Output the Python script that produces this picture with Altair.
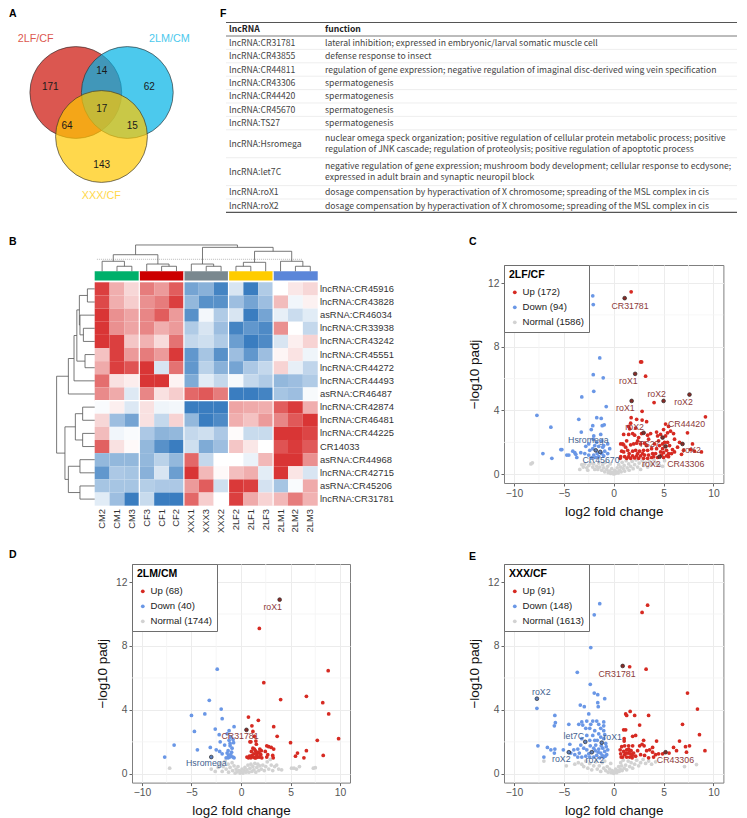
import altair as alt
import pandas as pd

FONT = "Liberation Sans"

# ---------- Venn ----------
VENN_NAMES = ["2LF/CF", "2LM/CM", "XXX/CF"]
VENN_CX = [75.8, 127.3, 101.5]
VENN_CY = [92.5, 92.5, 136.5]
VENN_FILL = ["#cc1005", "#00b2e5", "#ffc700"]
VENN_TITLE_COLOR = ["#dc5850", "#4bc9ed", "#ffd84a"]
VENN_TITLE_X = [35.7, 169.3, 101.3]
VENN_TITLE_Y = [39.3, 39.3, 196.3]
VENN_COUNTS = ["171", "14", "62", "17", "64", "15", "143"]
VENN_COUNT_X = [50.3, 101.7, 149.3, 101.7, 67, 132.3, 101.7]
VENN_COUNT_Y = [86.7, 71.3, 86.7, 108.7, 126.3, 126.3, 164.7]

# ---------- Table ----------
TABLE_HEAD = ["lncRNA", "function"]
TABLE_NAMES = ["lncRNA:CR31781", "lncRNA:CR43855", "lncRNA:CR44811", "lncRNA:CR43306", "lncRNA:CR44420",
               "lncRNA:CR45670", "lncRNA:TS27", "lncRNA:Hsromega", "lncRNA:let7C", "lncRNA:roX1", "lncRNA:roX2"]
TABLE_FUNCS = [
    ["lateral inhibition; expressed in embryonic/larval somatic muscle cell"],
    ["defense response to insect"],
    ["regulation of gene expression; negative regulation of imaginal disc-derived wing vein specification"],
    ["spermatogenesis"], ["spermatogenesis"], ["spermatogenesis"], ["spermatogenesis"],
    ["nuclear omega speck organization; positive regulation of cellular protein metabolic process; positive",
     "regulation of JNK cascade; regulation of proteolysis; positive regulation of apoptotic process"],
    ["negative regulation of gene expression; mushroom body development; cellular response to ecdysone;",
     "expressed in adult brain and synaptic neuropil block"],
    ["dosage compensation by hyperactivation of X chromosome; spreading of the MSL complex in cis"],
    ["dosage compensation by hyperactivation of X chromosome; spreading of the MSL complex in cis"],
]

# ---------- Heatmap ----------
HEAT_COLS = ["CM2", "CM1", "CM3", "CF3", "CF1", "CF2", "XXX1", "XXX3", "XXX2", "2LF2", "2LF1", "2LF3", "2LM1", "2LM2", "2LM3"]
HEAT_ROWS = ["lncRNA:CR45916", "lncRNA:CR43828", "asRNA:CR46034", "lncRNA:CR33938", "lncRNA:CR43242", "lncRNA:CR45551",
             "lncRNA:CR44272", "lncRNA:CR44493", "asRNA:CR46487", "lncRNA:CR42874", "lncRNA:CR46481", "lncRNA:CR44225",
             "CR14033", "asRNA:CR44968", "lncRNA:CR42715", "asRNA:CR45206", "lncRNA:CR31781"]
HEAT = [
    [.95, .4, .2, .65, .5, .8, -.7, -.6, -.95, -.2, -1, -.4, 0, .12, .2],
    [.9, .4, .25, .55, .65, .95, -.55, -.85, -.85, -.5, -.7, -.5, .33, -.07, .07],
    [1, .55, .45, .6, .8, .5, -.85, -.06, -.4, -.2, -1, -.7, -.12, -.27, -.15],
    [1, .55, .45, .6, .4, .5, -.4, -.2, -.5, -.95, -.8, -.9, .55, 0, -.3],
    [1, .95, .28, .38, .18, .7, -.3, -.25, -.4, -.75, -1, -.9, -.2, .08, .22],
    [.3, .95, .5, .65, .5, .98, -.8, -.45, -.85, -.5, -.8, -.5, .05, .14, -.08],
    [.42, .95, .85, 1, -.2, .7, -.8, -.35, -.6, -.7, -.42, -.3, .22, -.12, -.32],
    [.72, .15, .09, 1, 1, .06, -.65, -.15, -.3, -.05, -.3, -.4, -.55, -.5, -.4],
    [.58, .42, -.17, .6, .15, .25, .75, .82, .65, -1, -1, -.95, -.45, -.5, -.04],
    [-.03, .08, -.18, .15, -.08, -.06, -1, -1, -1, .45, .42, .4, .8, .97, .4],
    [.2, -.5, -.7, .15, -.3, .22, -.55, -1, -.9, .4, .3, .5, .6, .82, 1],
    [.33, -.07, -.03, -.42, -.58, -.55, -.3, -.25, -.42, .02, -.28, -.28, 1, 1, .92],
    [.78, .15, .03, -.55, -.85, -1, -.25, -.65, -.5, .28, .12, 0, .85, .97, .82],
    [-.55, -.55, -.55, -.55, -.35, -.55, .75, -.3, 0, 0, -.1, .35, 1, 1, .55],
    [-.8, -.42, -.45, -.6, -.2, -.75, 1, .35, .03, .32, .4, -.14, 1, .13, -.2],
    [-.45, -.45, -.45, -.38, -.42, -.42, .5, .8, -.25, .98, .95, -.22, -.45, -.03, .42],
    [-.15, -.5, -1, -.28, -1, -1, .75, .25, 0, .95, .42, .22, .35, .65, .38],
]
ANNOT_COLORS = ["#00b06b", "#cc0000", "#7a888f", "#ffcc00", "#5b86d9"]
# top dendrogram merges: left pos, right pos, height, left child height, right child height
TOP_DENDRO = [
    (1.5, 2.5, 1.22, .84, .84), (.5, 2.0, 1.60, .84, 1.22),
    (4.5, 5.5, 1.22, .84, .84), (3.5, 5.0, 1.39, .84, 1.22),
    (1.25, 4.25, 2.10, 1.60, 1.39),
    (7.5, 8.5, 1.22, .84, .84), (6.5, 8.0, 1.39, .84, 1.22),
    (9.5, 10.5, 1.22, .84, .84), (10.0, 11.5, 1.52, 1.22, .84),
    (13.5, 14.5, 1.22, .84, .84), (12.5, 14.0, 1.60, .84, 1.22),
    (10.75, 13.25, 2.36, 1.52, 1.60), (7.25, 12.0, 2.66, 1.39, 2.36),
    (2.75, 9.6, 2.84, 2.10, 2.66),
]
# left dendrogram merges: upper row pos, lower row pos, depth, upper child depth, lower child depth
LEFT_DENDRO = [
    (.5, 1.5, .49, 0, 0), (3.5, 4.5, .76, 0, 0), (2.5, 4.0, .99, 0, .76), (1.0, 3.25, 1.03, .49, .99),
    (5.5, 6.5, .65, 0, 0), (2.1, 6.0, 1.20, 1.03, .65), (4.05, 7.5, 1.39, 1.20, 0), (5.8, 8.5, 1.77, 1.39, 0),
    (9.5, 10.5, .81, 0, 0), (11.5, 12.5, .81, 0, 0), (10.0, 12.0, 1.30, .81, .81),
    (13.5, 14.5, .99, 0, 0), (15.5, 16.5, .99, 0, 0), (14.0, 16.0, 1.77, .99, .99),
    (11.0, 15.0, 2.0, 1.30, 1.77), (7.15, 13.0, 2.56, 1.77, 2.0),
]

# ---------- Volcano C ----------
C_UP = [(1.75,11.45),(2.7,7.05),(2.8,7.05),(3.2,6.15),(4.05,4.5),(2.85,3.95),(9.2,3.6),(1.75,3.55),(2.3,3.45),(2.85,3.4),(1.7,3.2),(3.3,3.3),(1.5,3.0),(5.2,3.15),(5.5,3.0),
(.7,1.9),(.9,1.9),(1.0,1.85),(1.3,2.1),(1.0,2.5),(1.5,2.5),(1.9,2.55),(2.1,2.45),(2.5,2.3),(2.8,2.55),(3.4,2.45),(3.7,2.55),(3.5,2.2),(2.2,2.9),(1.6,2.85),(2.4,2.1),(1.2,1.7),(1.7,1.85),(2.0,1.9),(2.3,1.95),(2.7,1.9),(3.1,1.95),(1.4,1.5),(.8,1.45),(1.0,1.4),(1.9,1.45),(2.2,1.5),(2.6,1.45),(3.0,1.5),(3.4,1.5),(3.8,1.6),(4.1,1.9),(4.3,1.6),(4.6,1.8),(4.5,2.1),(4.4,2.4),(4.3,2.65),(4.7,2.5),(5.2,2.4),(5.0,2.8),(5.4,2.6),(5.7,2.7),(6.0,2.55),(7.4,2.6),(5.1,2.0),(5.4,2.0),(5.6,1.8),(4.9,1.6),(5.3,1.5),(5.0,1.35),(4.8,1.2),(4.2,1.3),(3.9,1.3),(3.5,1.2),(3.1,1.2),(2.7,1.15),(2.3,1.15),(1.9,1.15),(1.5,1.1),(1.1,1.1),(.7,1.1),(.65,1.0),(1.3,1.0),(1.7,1.0),(2.1,1.02),(2.5,1.0),(3.0,1.0),(3.4,1.0),(3.8,1.05),(4.4,1.05),(5.0,1.05),(5.5,1.1),(5.8,1.3),(6.1,1.4),(6.4,1.7),(6.1,2.2),(6.6,2.0),(7.0,1.5),(6.8,1.25),(7.9,1.9),(7.7,1.55),(8.8,1.4),(8.1,1.45),(5.9,1.55),(4.0,1.1),(4.7,1.4),(5.5,1.3),(5.3,1.15),(4.9,1.9),(3.3,1.8),(1.55,1.3),(2.4,1.3),(2.9,1.3)]
C_DOWN = [(-2.1,11.2),(-2.05,10.65),(-1.4,7.3),(-2.05,6.25),(-1.05,6.05),(-2.0,5.2),(-3.2,4.85),(-.75,4.25),(-7.7,3.7),(-1.7,3.55),(-1.25,3.5),(-3.5,3.45),(-6.3,2.95),(-2.1,3.05),(-1.15,3.05),(-.95,3.1),(-2.25,2.8),(-3.25,2.65),(-1.3,2.5),(-2.0,2.4),(-2.05,2.2),(-2.5,1.9),(-1.7,2.0),(-1.2,2.1),(-1.9,1.8),(-1.5,1.75),(-1.0,1.8),(-.6,1.9),(-2.8,1.75),(-2.4,1.5),(-2.1,1.6),(-.9,1.45),(-.4,1.6),(-.6,1.3),(-1.0,1.15),(-1.5,1.1),(-2.0,1.2),(-2.5,1.2),(-2.9,1.3),(-3.3,1.35),(-5.3,1.55),(-5.2,1.55),(-4.1,1.45),(-3.9,1.35),(-3.8,1.25),(-4.7,1.2),(-4.5,1.2),(-3.7,1.05),(-7.1,1.3),(-6.2,1.0),(-1.2,1.3),(-1.65,1.3),(-1.8,1.05),(-2.2,1.05),(-1.1,1.7)]
C_NORMAL = [(-8.3,.65),(-8.15,.72),(-3.2,.6),(-3.05,.45),(-3.4,.3),(-2.9,.65),(-2.7,.4),(-2.5,.55),(-2.3,.7),(-2.6,.25),(-2.1,.45),(-1.9,.3),(-2.0,.65),(-1.7,.5),(-1.5,.7),(-1.6,.3),(-1.4,.45),(-1.2,.25),(-1.1,.6),(-1.0,.4),(-.9,.15),(-.85,.75),(-.7,.3),(-.6,.5),(-.55,.1),(-.4,.2),(-.35,.65),(-.3,.05),(-.2,.35),(-.15,.1),(0,.02),(.05,.1),(.15,.05),(.1,.25),(.3,.15),(.35,.4),(.45,.08),(.5,.6),(.6,.25),(.7,.45),(.75,.15),(.85,.75),(.95,.35),(1.05,.55),(1.1,.2),(1.25,.85),(1.35,.4),(1.5,.65),(1.55,.25),(1.7,.5),(1.85,.8),(1.95,.35),(2.1,.6),(2.25,.9),(2.4,.45),(2.55,.7),(2.7,.3),(2.85,.85),(3.0,.55),(3.2,.75),(3.4,.45),(3.6,.8),(3.8,.6),(4.05,.9),(4.3,.7),(4.6,.55),(4.9,.5),(5.1,.85)]
C_HL_UP = [(1.1,11.05),(2.15,6.3),(7.6,5.0),(1.8,4.6),(5.0,4.6),(3.0,2.6),(4.9,2.3),(5.2,1.75),(4.6,1.1),(6.9,1.9)]
C_HL_DOWN = [(-1.8,1.5),(-1.35,1.4)]
C_LAB_UP = [("CR31781",1.64,10.58),("roX1",1.47,5.85),("roX2",4.31,5.02),("roX2",7.0,4.54),("roX1",1.17,4.18),("CR44420",7.3,3.14),("roX2",2.1,2.97),("TS27",3.55,1.92),("roX2",7.8,1.53),("roX2",3.78,.67),("CR43306",7.22,.67)]
C_LAB_DOWN = [("Hsromega",-2.54,2.13),("CR45670",-1.27,.88)]

# ---------- Volcano D ----------
D_UP = [(1.85,9.1),(8.8,6.45),(2.3,5.7),(4.0,4.65),(6.6,4.85),(8.25,4.45),(8.85,3.75),(.75,3.55),(1.75,3.35),(3.3,2.95),(1.1,3.0),(1.2,2.65),(3.65,2.35),(1.35,2.35),(1.5,2.05),(.9,2.0),(1.0,2.0),(1.55,1.85),(5.0,1.95),(7.7,2.1),(9.85,2.2),(5.7,1.3),(5.5,1.1),(6.6,1.45),(6.35,1.0),(8.3,1.15),(2.6,1.75),(2.8,1.7),(3.05,1.65),(3.3,1.55),(2.7,1.2),(3.2,1.15),(3.25,1.0),(2.6,1.05),(.6,1.05),(.85,1.1),(1.05,1.4),(1.2,1.6),(1.3,1.25),(1.4,1.0),(1.45,1.45),(1.6,1.15),(1.75,1.35),(1.85,1.05),(1.9,1.55),(2.0,1.2),(2.1,1.0),(1.1,1.15),(1.25,1.05),(1.55,1.3),(1.65,1.05),(1.0,1.0),(1.35,1.55),(1.5,1.0),(1.9,1.25),(.75,1.0),(2.05,1.45),(2.45,1.4)]
D_DOWN = [(-2.4,6.55),(-3.2,4.6),(-2.0,4.05),(-5.0,3.65),(-3.65,3.75),(-1.9,3.45),(-2.6,2.8),(-.7,2.95),(-4.7,2.65),(-1.2,2.7),(-2.2,2.45),(-1.4,2.5),(-1.05,2.3),(-.8,2.15),(-2.1,2.0),(-1.65,1.8),(-1.2,2.1),(-.75,1.95),(-1.1,1.75),(-.9,1.6),(-6.75,1.8),(-3.1,1.65),(-4.4,1.5),(-2.5,1.5),(-2.15,1.4),(-1.9,1.25),(-1.4,1.3),(-7.7,1.05),(-1.5,1.0),(-1.3,1.0),(-1.15,1.05),(-1.0,1.1),(-.8,1.05),(-.7,1.0),(-1.05,1.2),(-1.3,1.45),(-1.1,1.9),(-.95,1.35),(-1.25,1.15)]
D_NORMAL = [(-7.2,.35),(-3.0,.3),(-2.6,.15),(-2.3,.4),(-2.1,.65),(-1.9,.15),(-1.6,.8),(-1.8,.45),(-1.5,.3),(-1.3,.6),(-1.25,.1),(-1.1,.4),(-.9,.7),(-.85,.2),(-.7,.5),(-.6,.05),(-.5,.3),(-.4,.12),(-.3,.45),(-.2,.2),(-.1,.05),(0,.15),(.1,.3),(.2,.05),(.3,.2),(.4,.4),(.5,.1),(.6,.25),(.7,.55),(.8,.1),(.9,.35),(1.0,.6),(1.1,.15),(1.2,.45),(1.3,.25),(1.4,.65),(1.5,.1),(1.6,.4),(1.7,.6),(1.8,.2),(1.9,.5),(2.05,.3),(2.2,.55),(2.35,.2),(2.5,.45),(2.65,.75),(2.8,.3),(2.95,.9),(3.05,.55),(3.2,.2),(3.4,.45),(3.6,.55),(3.8,.3),(4.1,.25),(5.1,.35),(5.35,.35),(5.6,.3),(5.9,.45),(7.3,.35),(7.5,.38)]
D_HL_UP = [(3.9,10.9),(.55,2.75)]
D_HL_DOWN = [(-3.0,1.05)]
D_LAB_UP = [("roX1",3.2,10.42),("CR31781",-.1,2.34)]
D_LAB_DOWN = [("Hsromega",-3.5,.65)]

# ---------- Volcano E ----------
E_UP = [(3.4,10.55),(2.85,10.1),(1.6,6.7),(3.25,6.55),(7.4,5.05),(8.4,4.05),(1.65,3.9),(1.2,3.75),(1.3,3.65),(2.1,3.65),(3.5,3.65),(2.6,3.05),(6.9,3.1),(1.0,2.75),(1.2,2.75),(8.6,2.45),(1.9,2.35),(2.2,2.4),(4.3,2.05),(6.6,2.05),(3.0,2.1),(1.05,2.2),(1.05,2.05),(9.15,1.45),(7.6,1.75),(7.2,1.7),(7.3,1.35),(6.0,1.65),(6.3,1.45),(5.55,1.3),(4.9,1.25),(4.5,1.25),(4.2,1.2),(3.9,1.35),(3.6,1.5),(3.3,1.45),(3.05,1.75),(2.85,1.85),(2.6,1.75),(2.4,1.45),(2.7,1.2),(3.1,1.15),(3.5,1.0),(2.2,1.1),(1.9,1.75),(1.75,1.45),(1.5,1.75),(1.3,1.5),(1.1,1.75),(.8,1.7),(.65,1.5),(.7,1.25),(.9,1.05),(1.1,1.2),(1.3,1.05),(1.45,1.3),(1.6,1.05),(1.7,1.25),(1.85,1.15),(2.0,1.3),(1.5,1.55),(1.25,1.3),(1.6,1.45),(1.0,1.4),(.75,1.05),(1.85,1.0),(4.0,1.05),(3.9,1.65)]
E_DOWN = [(-1.4,10.65),(-1.95,9.95),(-2.3,7.9),(-3.65,6.35),(-2.35,5.6),(-1.95,5.05),(-1.6,4.95),(-7.7,4.1),(-1.6,4.45),(-.9,4.7),(-1.55,4.2),(-3.35,4.3),(-2.95,4.2),(-5.9,3.65),(-2.5,3.75),(-5.85,3.2),(-5.95,3.0),(-4.5,3.1),(-3.5,3.1),(-3.2,3.25),(-3.1,3.05),(-2.7,3.3),(-2.3,3.1),(-2.1,3.3),(-1.7,3.3),(-1.5,3.1),(-1.0,3.25),(-1.0,3.0),(-2.8,2.85),(-2.4,2.85),(-1.9,2.7),(-1.3,2.85),(-1.0,2.7),(-2.1,2.4),(-1.5,2.5),(-1.3,2.3),(-.9,2.45),(-3.2,2.2),(-2.7,2.4),(-2.4,2.1),(-1.9,2.1),(-1.65,2.1),(-1.0,2.2),(-.8,1.9),(-4.4,1.85),(-7.6,1.75),(-6.65,1.65),(-6.3,1.5),(-5.9,1.55),(-5.05,1.5),(-5.95,1.3),(-7.0,1.05),(-4.3,1.3),(-3.9,1.2),(-3.6,1.55),(-3.3,1.8),(-3.0,1.6),(-2.7,1.5),(-2.5,1.25),(-2.0,1.6),(-1.8,1.8),(-1.5,1.55),(-1.3,1.3),(-1.1,1.6),(-.9,1.4),(-.7,1.2),(-1.0,1.05),(-1.4,1.0),(-1.7,1.15),(-2.0,1.05),(-2.4,1.05),(-2.8,1.1),(-3.2,1.05),(-3.6,1.05),(-1.55,1.35),(-1.25,1.75),(-.6,1.5),(-1.85,1.45),(-2.35,1.75),(-.75,1.7),(-3.45,1.3),(-1.15,1.15),(-.85,1.1),(-4.0,1.5)]
E_NORMAL = [(-7.0,.8),(-4.75,.5),(-3.9,.6),(-3.55,.7),(-3.2,.6),(-3.0,.45),(-2.8,.8),(-2.6,.35),(-2.4,.65),(-2.2,.25),(-2.0,.5),(-1.8,.75),(-1.65,.3),(-1.45,.5),(-1.3,.15),(-1.15,.7),(-1.0,.35),(-.9,.8),(-.8,.2),(-.65,.45),(-.55,.1),(-.4,.3),(-.3,.65),(-.25,.08),(-.15,.2),(0,.03),(.1,.12),(.2,.3),(.3,.07),(.4,.2),(.5,.45),(.55,.15),(.65,.3),(.7,.7),(.8,.5),(.85,.2),(.95,.85),(1.05,.35),(1.2,.55),(1.3,.25),(1.45,.8),(1.6,.45),(1.75,.7),(1.9,.35),(2.1,.6),(2.3,.85),(2.5,.5),(2.7,.7),(2.95,.9),(3.2,.65),(3.5,.8),(3.8,.6),(4.2,.75),(7.1,.45),(8.3,.58)]
E_HL_UP = [(.9,6.75),(5.2,1.35)]
E_HL_DOWN = [(-7.7,4.7),(-2.85,2.0),(-1.2,1.95),(-4.5,1.35),(-2.2,1.35)]
E_LAB_UP = [("CR31781",.33,6.22),("CR43306",6.19,.86)]
E_LAB_DOWN = [("roX2",-7.26,5.09),("let7C",-4.0,2.34),("roX1",-.1,2.32),("roX2",-5.25,.9),("roX2",-1.9,.84)]

X_MINOR = [-7.5, -2.5, 2.5, 7.5]
Y_MINOR = [2, 6, 10]
COL_UP, COL_DOWN, COL_NORMAL = "#d62a22", "#6a97e6", "#d2d2d2"


def spacer(w, h):
    return alt.Chart(pd.DataFrame({"a": [0]})).mark_point(opacity=0, size=1).encode(
        x=alt.value(w / 2), y=alt.value(h / 2)).properties(width=w, height=h)


def letter(ch, px, py):
    return alt.Chart(pd.DataFrame({"t": [ch]})).mark_text(
        font=FONT, fontSize=10.5, fontWeight="bold", color="black", align="left", baseline="middle"
    ).encode(text="t:N", x=alt.value(px), y=alt.value(py))


def venn_panel():
    sx = alt.X("x:Q", scale=alt.Scale(domain=[8, 215], nice=False), axis=None)
    sy = alt.Y("y:Q", scale=alt.Scale(domain=[214, 8], nice=False), axis=None)
    circles = alt.Chart(pd.DataFrame({"x": VENN_CX, "y": VENN_CY, "c": VENN_FILL, "o": [0, 1, 2]})).mark_circle(
        size=8430, fillOpacity=0.7, opacity=1, stroke="#2b2b2b", strokeWidth=0.7, strokeOpacity=0.9
    ).encode(x=sx, y=sy, color=alt.Color("c:N", scale=None), order="o:Q")
    titles = alt.Chart(pd.DataFrame({"x": VENN_TITLE_X, "y": VENN_TITLE_Y, "t": VENN_NAMES, "c": VENN_TITLE_COLOR})).mark_text(
        font=FONT, fontSize=10.8).encode(x=sx, y=sy, text="t:N", color=alt.Color("c:N", scale=None))
    counts = alt.Chart(pd.DataFrame({"x": VENN_COUNT_X, "y": VENN_COUNT_Y, "t": VENN_COUNTS})).mark_text(
        font=FONT, fontSize=10, color="#1a1a1a").encode(x=sx, y=sy, text="t:N")
    return alt.layer(circles, titles, counts, letter("A", 1, 6)).properties(width=207, height=206)


def table_panel():
    tfont = "Noto Sans CJK SC"
    sx = alt.X("x:Q", scale=alt.Scale(domain=[215, 739], nice=False), axis=None)
    sy = alt.Y("y:Q", scale=alt.Scale(domain=[214, 8], nice=False), axis=None)
    edges = [36.0]
    names, lines = [], []
    for nm, fn in zip(TABLE_NAMES, TABLE_FUNCS):
        top = edges[-1]
        h = 13.4 if len(fn) == 1 else 27.9
        names.append({"x": 229, "y": top + h / 2, "t": nm})
        off = [0] if len(fn) == 1 else [-5.5, 5.5]
        for o, s in zip(off, fn):
            lines.append({"x": 325, "y": top + h / 2 + o, "t": s})
        edges.append(top + h)
    head = pd.DataFrame({"x": [229, 325], "y": [29.3, 29.3], "t": TABLE_HEAD})
    seps = pd.DataFrame({"x": [226] * (len(edges) - 2), "x2": [737] * (len(edges) - 2), "y": edges[1:-1]})
    dark = pd.DataFrame({"x": [226] * 3, "x2": [737] * 3, "y": [22.5, 36.0, edges[-1]], "w": [1.2, .8, 1.2]})
    return alt.layer(
        alt.Chart(seps).mark_rule(color="#e6e6e6", strokeWidth=0.7).encode(x=sx, x2="x2:Q", y=sy),
        alt.Chart(dark).mark_rule(color="#555555").encode(x=sx, x2="x2:Q", y=sy, strokeWidth=alt.StrokeWidth("w:Q", scale=None)),
        alt.Chart(head).mark_text(font=tfont, fontSize=8.65, fontWeight="bold", color="#222222", align="left", baseline="middle").encode(x=sx, y=sy, text="t:N"),
        alt.Chart(pd.DataFrame(names)).mark_text(font=tfont, fontSize=8.65, color="#444444", align="left", baseline="middle").encode(x=sx, y=sy, text="t:N"),
        alt.Chart(pd.DataFrame(lines)).mark_text(font=tfont, fontSize=8.65, color="#444444", align="left", baseline="middle").encode(x=sx, y=sy, text="t:N"),
        letter("F", 5, 6),
    ).properties(width=524, height=206)


def heat_panel():
    W, H = 495.3, 348.7
    sx = alt.X("x:Q", scale=alt.Scale(domain=[-5.83, 27.48], nice=False), axis=None)
    sy = alt.Y("y:Q", scale=alt.Scale(domain=[21.34, -5.198], nice=False), axis=None)
    cells = [{"x": c, "x2": c + 1, "y": r, "y2": r + 1, "v": HEAT[r][c]} for r in range(len(HEAT)) for c in range(15)]
    heat = alt.Chart(pd.DataFrame(cells)).mark_rect().encode(
        x=sx, x2="x2:Q", y=sy, y2="y2:Q",
        color=alt.Color("v:Q", legend=None, scale=alt.Scale(domain=[-1, 0, 1], range=["#3a7dc0", "#ffffff", "#d93535"], interpolate="rgb")))
    ann = pd.DataFrame({"x": [0, 3, 6, 9, 12], "x2": [3, 6, 9, 12, 15], "y": [-.84] * 5, "y2": [-.13] * 5, "c": ANNOT_COLORS})
    annot = alt.Chart(ann).mark_rect().encode(x=sx, x2="x2:Q", y=sy, y2="y2:Q", color=alt.Color("c:N", scale=None))
    gaps_v = pd.DataFrame({"x": [3, 6, 9, 12], "y": [-.84] * 4, "y2": [17] * 4})
    gaps_h = pd.DataFrame({"x": [0], "x2": [15], "y": [9]})
    g1 = alt.Chart(gaps_v).mark_rule(color="white", strokeWidth=1.2).encode(x=sx, y=sy, y2="y2:Q")
    g2 = alt.Chart(gaps_h).mark_rule(color="white", strokeWidth=1.2).encode(x=sx, x2="x2:Q", y=sy)
    segs = []
    for a, b, h, ha, hb in TOP_DENDRO:
        segs += [{"x": a, "x2": b, "y": -h, "y2": -h}, {"x": a, "x2": a, "y": -h, "y2": -ha}, {"x": b, "x2": b, "y": -h, "y2": -hb}]
    for a, b, d, da, db in LEFT_DENDRO:
        segs += [{"x": -d, "x2": -d, "y": a, "y2": b}, {"x": -d, "x2": -da, "y": a, "y2": a}, {"x": -d, "x2": -db, "y": b, "y2": b}]
    dend = alt.Chart(pd.DataFrame(segs)).mark_rule(color="#555555", strokeWidth=0.8).encode(x=sx, x2="x2:Q", y=sy, y2="y2:Q")
    cut = alt.Chart(pd.DataFrame({"x": [.15], "x2": [14.0], "y": [-1.75]})).mark_rule(
        color="#aaaaaa", strokeWidth=0.8, strokeDash=[1, 1]).encode(x=sx, x2="x2:Q", y=sy)
    rl = pd.DataFrame({"x": [15.15] * len(HEAT_ROWS), "y": [i + .5 for i in range(len(HEAT_ROWS))], "t": HEAT_ROWS})
    rlab = alt.Chart(rl).mark_text(font=FONT, fontSize=9.4, color="#333333", align="left", baseline="middle").encode(x=sx, y=sy, text="t:N")
    cl = pd.DataFrame({"x": [i + .5 for i in range(15)], "y": [17.25] * 15, "t": HEAT_COLS})
    clab = alt.Chart(cl).mark_text(font=FONT, fontSize=9.4, color="#333333", angle=270, align="right", baseline="middle").encode(x=sx, y=sy, text="t:N")
    return alt.layer(heat, annot, g1, g2, cut, dend, rlab, clab,
                     letter("B", 1, 28), letter("C", 461, 28), letter("D", 1, 341), letter("E", 461, 343)
                     ).properties(width=W, height=H)


def volcano(name, up, down, normal, hl_up, hl_down, lab_up, lab_down, counts, w, h):
    labels = [f"Up ({counts[0]})", f"Down ({counts[1]})", f"Normal ({counts[2]})"]
    rows = ([{"x": a, "y": b, "s": labels[2], "o": 0} for a, b in normal]
            + [{"x": a, "y": b, "s": labels[1], "o": 1} for a, b in down]
            + [{"x": a, "y": b, "s": labels[0], "o": 2} for a, b in up])
    sx = alt.X("x:Q", scale=alt.Scale(domain=[-11, 11], nice=False, zero=False),
               axis=alt.Axis(values=[-10, -5, 0, 5, 10], title="log2 fold change", titlePadding=6))
    sy = alt.Y("y:Q", scale=alt.Scale(domain=[-.55, 13.13], nice=False, zero=False),
               axis=alt.Axis(values=[0, 4, 8, 12], title="\u2212log10 padj", titlePadding=6))
    ex = alt.X("x:Q", scale=alt.Scale(domain=[-11, 11], nice=False, zero=False))
    ey = alt.Y("y:Q", scale=alt.Scale(domain=[-.55, 13.13], nice=False, zero=False))
    minx = alt.Chart(pd.DataFrame({"x": X_MINOR})).mark_rule(color="#f4f4f4", strokeWidth=0.8).encode(x=ex)
    miny = alt.Chart(pd.DataFrame({"y": Y_MINOR})).mark_rule(color="#f4f4f4", strokeWidth=0.8).encode(y=ey)
    pts = alt.Chart(pd.DataFrame(rows)).mark_circle(size=14, opacity=1).encode(
        x=sx, y=sy, order="o:Q",
        color=alt.Color("s:N", scale=alt.Scale(domain=labels, range=[COL_UP, COL_DOWN, COL_NORMAL]),
                        legend=alt.Legend(title="\u00a0\u00a0" + name, orient="top-left", offset=0, fillColor="white",
                                          strokeColor="#6e6e6e", padding=5, titleFontSize=10.5, titleFontWeight="bold",
                                          titleColor="black", titleFont=FONT, labelFont=FONT, labelFontSize=9.6,
                                          labelColor="#222222", symbolSize=14, symbolType="circle", labelOffset=3,
                                          rowPadding=4, titlePadding=7, symbolOffset=1, labelLimit=120)))
    hlu = alt.Chart(pd.DataFrame(hl_up, columns=["x", "y"])).mark_circle(
        size=14, opacity=1, color="#8a2a26", stroke="#2b2b2b", strokeWidth=0.7).encode(x=ex, y=ey)
    hld = alt.Chart(pd.DataFrame(hl_down, columns=["x", "y"])).mark_circle(
        size=14, opacity=1, color="#5b7fc0", stroke="#2b2b2b", strokeWidth=0.7).encode(x=ex, y=ey)
    tu = alt.Chart(pd.DataFrame(lab_up, columns=["t", "x", "y"])).mark_text(
        font=FONT, fontSize=8.8, color="#8c3a3a", baseline="middle").encode(x=ex, y=ey, text="t:N")
    td = alt.Chart(pd.DataFrame(lab_down, columns=["t", "x", "y"])).mark_text(
        font=FONT, fontSize=8.8, color="#44628f", baseline="middle").encode(x=ex, y=ey, text="t:N")
    return alt.layer(minx, miny, pts, hlu, hld, tu, td).properties(
        width=w, height=h, view=alt.ViewConfig(stroke="#7f7f7f", strokeWidth=1))


row1 = alt.hconcat(venn_panel(), table_panel(), spacing=0, bounds="flush").resolve_scale(color="independent")
panel_c = volcano("2LF/CF", C_UP, C_DOWN, C_NORMAL, C_HL_UP, C_HL_DOWN, C_LAB_UP, C_LAB_DOWN, (172, 94, 1586), 219.4, 218)
panel_d = volcano("2LM/CM", D_UP, D_DOWN, D_NORMAL, D_HL_UP, D_HL_DOWN, D_LAB_UP, D_LAB_DOWN, (68, 40, 1744), 218, 218.6)
panel_e = volcano("XXX/CF", E_UP, E_DOWN, E_NORMAL, E_HL_UP, E_HL_DOWN, E_LAB_UP, E_LAB_DOWN, (91, 148, 1613), 219.4, 218.6)
col_c = alt.vconcat(spacer(219.4, 51), panel_c, spacing=0, bounds="flush").resolve_scale(color="independent")
row2 = alt.hconcat(heat_panel(), col_c, spacing=0, bounds="flush").resolve_scale(color="independent")
row3 = alt.hconcat(spacer(123.3, 218), panel_d, spacer(154, 218), panel_e, spacing=0, bounds="flush").resolve_scale(color="independent")

chart = alt.vconcat(row1, row2, row3, spacing=0).resolve_scale(color="independent").properties(padding=0).configure_view(stroke=None).configure_axis(
    labelFont=FONT, titleFont=FONT, labelFontSize=10.3, titleFontSize=13.4, titleFontWeight="normal",
    labelColor="#555555", titleColor="#111111", gridColor="#ececec", gridWidth=1, tickColor="#666666",
    tickSize=3, domain=False, labelPadding=2)

chart.save("out.html", embed_options={"renderer": "svg", "actions": False})
